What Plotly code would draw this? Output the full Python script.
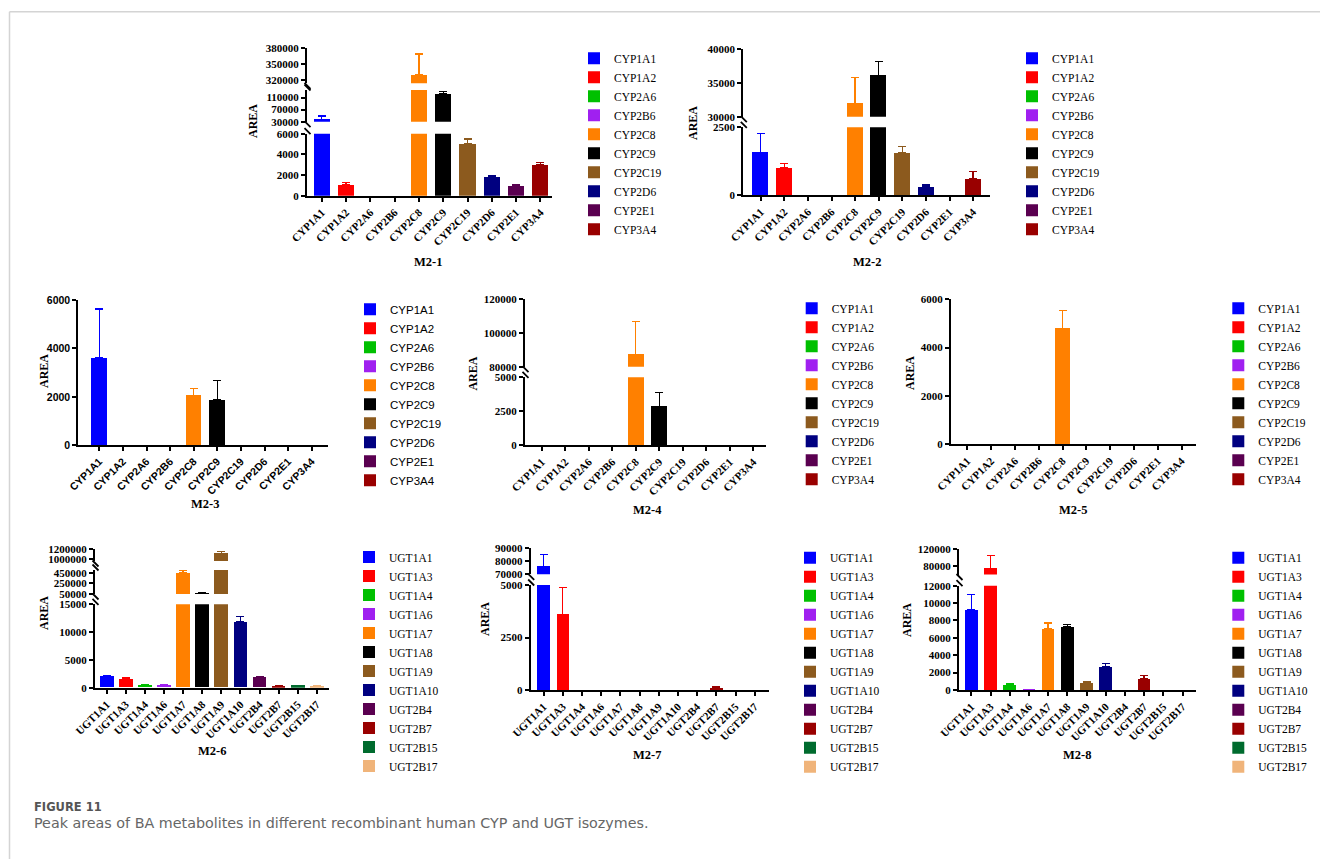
import plotly.graph_objects as go

W, H = 1320, 859

# ---------------- data ----------------
CYP_ISOZYMES = ["CYP1A1", "CYP1A2", "CYP2A6", "CYP2B6", "CYP2C8",
                "CYP2C9", "CYP2C19", "CYP2D6", "CYP2E1", "CYP3A4"]
UGT_ISOZYMES = ["UGT1A1", "UGT1A3", "UGT1A4", "UGT1A6", "UGT1A7", "UGT1A8",
                "UGT1A9", "UGT1A10", "UGT2B4", "UGT2B7", "UGT2B15", "UGT2B17"]

CYP_COLORS = ["#0000FF", "#FF0000", "#00C000", "#A020F0", "#FF8000",
              "#000000", "#8C5A1E", "#000080", "#5A0050", "#990000"]
UGT_COLORS = ["#0000FF", "#FF0000", "#00C000", "#A020F0", "#FF8000", "#000000",
              "#8C5A1E", "#000080", "#5A0050", "#990000", "#006B2E", "#F0B47A"]

M2_1_AREA = [38000, 1030, 0, 0, 329600, 121700, 5060, 1820, 960, 3030]
M2_1_SD = [11000, 230, 0, 0, 39600, 7600, 440, 150, 130, 170]
M2_2_AREA = [1580, 1000, 0, 0, 32000, 36100, 1550, 300, 0, 600]
M2_2_SD = [690, 160, 0, 0, 3800, 2100, 250, 80, 0, 270]
M2_3_AREA = [3620, 0, 0, 0, 2070, 1890, 0, 0, 0, 0]
M2_3_SD = [2010, 0, 0, 0, 270, 780, 0, 0, 0, 0]
M2_4_AREA = [0, 0, 0, 0, 87300, 2870, 0, 0, 0, 0]
M2_4_SD = [0, 0, 0, 0, 19300, 1030, 0, 0, 0, 0]
M2_5_AREA = [0, 0, 0, 0, 4790, 0, 0, 0, 0, 0]
M2_5_SD = [0, 0, 0, 0, 740, 0, 0, 0, 0, 0]
M2_6_AREA = [1980, 1560, 420, 400, 450000, 63000, 1114000, 11800, 1800, 300, 350, 250]
M2_6_SD = [250, 180, 150, 120, 44000, 19000, 32000, 970, 120, 60, 80, 40]
M2_7_AREA = [75800, 3600, 0, 0, 0, 0, 0, 0, 0, 100, 0, 0]
M2_7_SD = [9600, 1270, 0, 0, 0, 0, 0, 0, 0, 40, 0, 0]
M2_8_AREA = [9280, 74600, 640, 80, 7050, 7240, 860, 2720, 0, 1300, 0, 0]
M2_8_SD = [1720, 29400, 80, 0, 650, 310, 110, 300, 0, 330, 0, 0]

PANEL_TITLES = ["M2-1", "M2-2", "M2-3", "M2-4", "M2-5", "M2-6", "M2-7", "M2-8"]
Y_LABEL = "AREA"
CAPTION_HEAD = "FIGURE 11"
CAPTION_TEXT = "Peak areas of BA metabolites in different recombinant human CYP and UGT isozymes."

SERIF = "Liberation Serif, Times New Roman, serif"
SANS = "Liberation Sans, Arial, sans-serif"
CAPTION_FONT = "DejaVu Sans, sans-serif"

# ---------------- layout of the panels (pixel geometry) ----------------
# segs: (vmin, vmax, px_bottom, px_top, tickvals)
panels = [
    dict(names=CYP_ISOZYMES, colors=CYP_COLORS, area=M2_1_AREA, sd=M2_1_SD, font=SERIF,
         xpx=(307, 552), c0=321.7, step=24.3, barw=0.66,
         segs=[(0, 6000, 195.7, 133.7, [0, 2000, 4000, 6000]),
               (30000, 135000, 121.7, 90, [30000, 70000, 110000]),
               (314000, 380000, 83.3, 48.3, [320000, 350000, 380000])],
         title_pos=(428, 262), ylab_pos=(253, 121), legend_pos=(614, 58.3)),
    dict(names=CYP_ISOZYMES, colors=CYP_COLORS, area=M2_2_AREA, sd=M2_2_SD, font=SERIF,
         xpx=(743.3, 990), c0=760.7, step=23.6, barw=0.68,
         segs=[(0, 2500, 195.3, 127.3, [0, 2500]),
               (30000, 40000, 116.7, 49, [30000, 35000, 40000])],
         title_pos=(867, 262), ylab_pos=(693, 123), legend_pos=(1052, 58.3)),
    dict(names=CYP_ISOZYMES, colors=CYP_COLORS, area=M2_3_AREA, sd=M2_3_SD, font=SANS,
         xpx=(78.3, 328.3), c0=99.3, step=23.6, barw=0.66,
         segs=[(0, 6000, 445.3, 300, [0, 2000, 4000, 6000])],
         title_pos=(205, 504.3), ylab_pos=(44, 371), legend_pos=(390, 309.3)),
    dict(names=CYP_ISOZYMES, colors=CYP_COLORS, area=M2_4_AREA, sd=M2_4_SD, font=SERIF,
         xpx=(525, 766), c0=541.7, step=23.5, barw=0.68,
         segs=[(0, 5000, 445.3, 377.3, [0, 2500, 5000]),
               (80000, 120000, 366.7, 299, [80000, 100000, 120000])],
         title_pos=(647, 510), ylab_pos=(473.3, 373.3), legend_pos=(831.7, 308.3)),
    dict(names=CYP_ISOZYMES, colors=CYP_COLORS, area=M2_5_AREA, sd=M2_5_SD, font=SERIF,
         xpx=(951, 1196), c0=967.3, step=23.8, barw=0.67,
         segs=[(0, 6000, 444.3, 299.3, [0, 2000, 4000, 6000])],
         title_pos=(1073, 510), ylab_pos=(910, 373), legend_pos=(1258.3, 308.3)),
    dict(names=UGT_ISOZYMES, colors=UGT_COLORS, area=M2_6_AREA, sd=M2_6_SD, font=SERIF,
         xpx=(95, 329.3), c0=106.7, step=19.1, barw=0.72,
         segs=[(0, 15000, 687.7, 604.3, [0, 5000, 10000, 15000]),
               (50000, 500000, 594, 570, [50000, 250000, 450000]),
               (960000, 1200000, 561, 549, [1000000, 1200000])],
         title_pos=(211.5, 751), ylab_pos=(44, 613), legend_pos=(389, 557)),
    dict(names=UGT_ISOZYMES, colors=UGT_COLORS, area=M2_7_AREA, sd=M2_7_SD, font=SERIF,
         xpx=(530.7, 769.3), c0=543.5, step=19.2, barw=0.66,
         segs=[(0, 5000, 690, 585, [0, 2500, 5000]),
               (70000, 90000, 574.3, 548.3, [70000, 80000, 90000])],
         title_pos=(647, 755), ylab_pos=(485, 619), legend_pos=(830, 557.7)),
    dict(names=UGT_ISOZYMES, colors=UGT_COLORS, area=M2_8_AREA, sd=M2_8_SD, font=SERIF,
         xpx=(959, 1196), c0=971.3, step=19.2, barw=0.66,
         segs=[(0, 12000, 690, 585.7, [0, 2000, 4000, 6000, 8000, 10000, 12000]),
               (60000, 120000, 574.5, 549, [80000, 120000])],
         title_pos=(1077, 755), ylab_pos=(907, 620), legend_pos=(1258.3, 557.7)),
]


def px(x):
    return x / W


def py(y):
    return 1 - y / H


fig = go.Figure()
layout = {}
shapes = []
annotations = []
axis_n = 0

for pi, p in enumerate(panels):
    legend_id = "legend" if pi == 0 else f"legend{pi + 1}"
    L, R = p["xpx"]
    xr = [(L - p["c0"]) / p["step"], (R - p["c0"]) / p["step"]]
    tickfont = dict(family=p["font"], size=11 if p["font"] == SERIF else 10.5,
                    color="black", weight="bold")
    for si, (vmin, vmax, pb, pt, tv) in enumerate(p["segs"]):
        axis_n += 1
        xs = "" if axis_n == 1 else str(axis_n)
        xname, yname = "x" + xs, "y" + xs
        for k, name in enumerate(p["names"]):
            sd = p["sd"][k]
            fig.add_trace(go.Bar(
                x=[name], y=[p["area"][k]], xaxis=xname, yaxis=yname,
                name=name, legend=legend_id, showlegend=(si == 0),
                width=p["barw"],
                marker=dict(color=p["colors"][k], line=dict(width=0)),
                error_y=dict(type="data", array=[sd], arrayminus=[0], symmetric=False,
                             visible=sd > 0, color=p["colors"][k], thickness=1.3, width=4),
                hovertemplate=name + ": %{y}<extra></extra>",
            ))
        bottom = si == 0
        layout["xaxis" + xs] = dict(
            domain=[px(L), px(R)], anchor=yname, range=xr,
            type="category", categoryorder="array", categoryarray=p["names"],
            visible=bottom, showline=True, linecolor="black", linewidth=2,
            ticks="outside", ticklen=4, tickwidth=1.5, tickcolor="black",
            tickangle=-45, tickfont=tickfont, showgrid=False, zeroline=False,
            fixedrange=True,
        )
        layout["yaxis" + xs] = dict(
            domain=[py(pb), py(pt)], anchor=xname, range=[vmin, vmax],
            tickvals=tv, tickformat="d", showline=True, linecolor="black", linewidth=2,
            ticks="outside", ticklen=4, tickwidth=1.5, tickcolor="black",
            tickfont=tickfont, showgrid=False, zeroline=False, fixedrange=True,
        )
        # break marks between this segment and the one above it
        if si + 1 < len(p["segs"]):
            upper_bottom = p["segs"][si + 1][2]
            for yb in (pt - 2.5, upper_bottom + 2.5):
                shapes.append(dict(type="line", xref="paper", yref="paper",
                                   x0=px(L - 2.5), y0=py(yb - 3), x1=px(L + 3.5), y1=py(yb + 3),
                                   line=dict(color="black", width=1.8)))

    # legend for the panel
    lx, ly = p["legend_pos"]
    layout[legend_id] = dict(
        x=px(lx - 40), y=py(ly - 14.5), xanchor="left", yanchor="top",
        bgcolor="rgba(0,0,0,0)", borderwidth=0, traceorder="normal",
        font=dict(family=p["font"], size=11.5, color="black"),
    )
    # panel title
    tx, ty = p["title_pos"]
    annotations.append(dict(text=PANEL_TITLES[pi], x=px(tx), y=py(ty), xref="paper", yref="paper",
                            showarrow=False, xanchor="center", yanchor="middle",
                            font=dict(family=SERIF, size=12.5, color="black", weight="bold")))
    ax_, ay_ = p["ylab_pos"]
    annotations.append(dict(text=Y_LABEL, x=px(ax_), y=py(ay_), xref="paper", yref="paper",
                            showarrow=False, xanchor="center", yanchor="middle", textangle=-90,
                            font=dict(family=SERIF, size=12, color="black", weight="bold")))

# page frame
shapes.append(dict(type="line", xref="paper", yref="paper", x0=px(9.5), x1=1, y0=py(11.7), y1=py(11.7),
                   line=dict(color="#d4d4d4", width=1.5)))
shapes.append(dict(type="line", xref="paper", yref="paper", x0=px(9.5), x1=px(9.5), y0=py(11.7), y1=0,
                   line=dict(color="#d4d4d4", width=1.5)))

# caption
annotations.append(dict(text=CAPTION_HEAD, x=px(32), y=py(806.5), xref="paper", yref="paper",
                        showarrow=False, xanchor="left", yanchor="middle",
                        font=dict(family=CAPTION_FONT, size=11.5, color="#555555", weight="bold")))
annotations.append(dict(text=CAPTION_TEXT, x=px(32), y=py(822.5), xref="paper", yref="paper",
                        showarrow=False, xanchor="left", yanchor="middle",
                        font=dict(family=CAPTION_FONT, size=14.3, color="#666666")))

fig.update_layout(
    width=W, height=H,
    margin=dict(l=0, r=0, t=0, b=0, autoexpand=False),
    paper_bgcolor="white", plot_bgcolor="rgba(0,0,0,0)",
    barmode="overlay", bargap=0,
    shapes=shapes, annotations=annotations,
    **layout,
)

fig.write_html(
    "out.html",
    config={"displayModeBar": False},
    post_script="document.body.style.margin='0';document.body.style.padding='0';"
                "document.body.style.overflow='hidden';",
)
